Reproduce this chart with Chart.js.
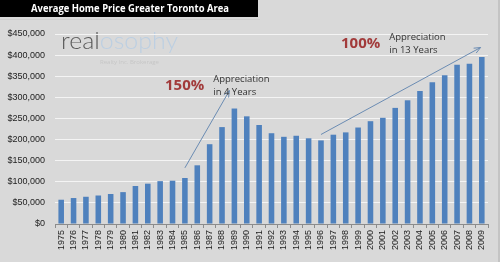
<!DOCTYPE html>
<html>
<head>
<meta charset="utf-8">
<script src="https://cdn.jsdelivr.net/npm/chart.js@4.4.1/dist/chart.umd.min.js"></script>
<style>
  html, body { margin: 0; padding: 0; background: #d9d9d9; }
  #wrap { width: 500px; height: 262px; position: relative; }
</style>
</head>
<body>
<div id="wrap"><canvas id="price-chart"></canvas></div>
<script>
const years = ['1975', '1976', '1977', '1978', '1979', '1980', '1981', '1982', '1983', '1984',
    '1985', '1986', '1987', '1988', '1989', '1990', '1991', '1992', '1993', '1994',
    '1995', '1996', '1997', '1998', '1999', '2000', '2001', '2002', '2003', '2004',
    '2005', '2006', '2007', '2008', '2009'];
const avgPrice = [57500, 61500, 64500, 67500, 71000, 75500, 90000, 95500, 101500, 102500,
    109000, 139000, 189000, 229500, 273500, 255000, 234500, 215000, 206500, 209000,
    203000, 198000, 211500, 217000, 228500, 243500, 251500, 275000, 293000, 315000,
    335500, 352500, 377000, 379500, 395500];
const yMax = 450000;
const yStep = 50000;

const titleText = 'Average Home Price Greater Toronto Area';

// callouts: arrow from [category index, value] to [category index, value]
const callouts = [
    { pct: '150%', line1: 'Appreciation', line2: 'in 4 Years', from: [10, 133000], to: [13.6, 316000], textAt: [165, 86] },
    { pct: '100%', line1: 'Appreciation', line2: 'in 13 Years', from: [21, 212000], to: [33.9, 418000], textAt: [341, 44] }
];

const backdrop = {
    id: 'backdrop',
    beforeDraw(chart) {
        const c = chart.ctx;
        c.save();
        c.fillStyle = '#d9d9d9';
        c.fillRect(0, 0, chart.width, chart.height);
        c.fillStyle = '#c4c4c4';
        c.fillRect(chart.width - 2, 0, 2, chart.height);
        c.fillStyle = '#cfcfcf';
        c.fillRect(0, 19, 260, 1);
        c.fillStyle = '#000';
        c.fillRect(0, 0, 258, 17);
        c.fillStyle = '#fff';
        c.font = 'bold 11px "Open Sans"';
        c.textAlign = 'center';
        c.textBaseline = 'middle';
        c.fillText(titleText, 130, 9, 198);

        // logo
        c.textAlign = 'left';
        c.textBaseline = 'alphabetic';
        c.font = '300 24px Lato';
        const full = c.measureText('realosophy').width;
        const k = 117 / full;
        c.translate(61, 49);
        c.scale(k, 1);
        c.fillStyle = '#5a5a5a';
        c.fillText('real', 0, 0);
        const w = c.measureText('real').width;
        c.fillStyle = '#bccfe2';
        c.fillText('osophy', w, 0);
        c.setTransform(1, 0, 0, 1, 0, 0);
        c.font = '6px "Open Sans"';
        c.fillStyle = '#c6c6c6';
        c.fillText('Realty Inc. Brokerage', 100, 64);
        c.restore();
    },
    afterDraw(chart) {
        const c = chart.ctx;
        const xs = chart.scales.x, ys = chart.scales.y;
        c.save();
        callouts.forEach(cl => {
            const x1 = xs.getPixelForValue(cl.from[0]), y1 = ys.getPixelForValue(cl.from[1]);
            const x2 = xs.getPixelForValue(cl.to[0]), y2 = ys.getPixelForValue(cl.to[1]);
            c.strokeStyle = '#6b8cb3';
            c.lineWidth = 1;
            c.beginPath();
            c.moveTo(x1, y1);
            c.lineTo(x2, y2);
            c.stroke();
            const a = Math.atan2(y2 - y1, x2 - x1);
            c.beginPath();
            c.moveTo(x2 - 7 * Math.cos(a - 0.4), y2 - 7 * Math.sin(a - 0.4));
            c.lineTo(x2, y2);
            c.lineTo(x2 - 7 * Math.cos(a + 0.4), y2 - 7 * Math.sin(a + 0.4));
            c.stroke();

            c.textBaseline = 'middle';
            c.textAlign = 'left';
            c.font = 'bold 15px "Open Sans"';
            c.fillStyle = '#a23b3b';
            c.fillText(cl.pct, cl.textAt[0], cl.textAt[1]);
            const pw = c.measureText(cl.pct).width;
            c.font = '9.5px "Open Sans"';
            c.fillStyle = '#333';
            c.fillText(cl.line1, cl.textAt[0] + pw + 9, cl.textAt[1] - 7);
            c.fillText(cl.line2, cl.textAt[0] + pw + 9, cl.textAt[1] + 6);
        });
        c.restore();
    }
};

new Chart(document.getElementById('price-chart'), {
    type: 'bar',
    data: {
        labels: years,
        datasets: [{
            label: 'Average Home Price',
            data: avgPrice,
            backgroundColor: '#4f81bd',
            barPercentage: 0.9,
            categoryPercentage: 0.5
        }]
    },
    options: {
        responsive: true,
        maintainAspectRatio: false,
        animation: false,
        layout: { padding: { top: 34, right: 12, left: 0, bottom: 0 } },
        plugins: {
            legend: { display: false },
            tooltip: { enabled: false }
        },
        scales: {
            x: {
                afterFit(scale) { scale.height = 38; },
                border: { color: '#8c8c8c' },
                grid: { drawOnChartArea: false, color: '#8c8c8c', tickLength: 4 },
                ticks: {
                    autoSkip: false,
                    minRotation: 90,
                    maxRotation: 90,
                    padding: 2,
                    color: '#222',
                    font: { size: 9, family: 'Arial, "Liberation Sans"' }
                }
            },
            y: {
                min: 0,
                max: yMax,
                afterFit(scale) { scale.width = 55; },
                border: { display: false },
                grid: { color: '#f4f4f4', drawTicks: false },
                ticks: {
                    stepSize: yStep,
                    padding: 10,
                    color: '#222',
                    font: { size: 9, family: 'Arial, "Liberation Sans"' },
                    callback: v => '$' + v.toLocaleString('en-US')
                }
            }
        }
    },
    plugins: [backdrop]
});
</script>
</body>
</html>
